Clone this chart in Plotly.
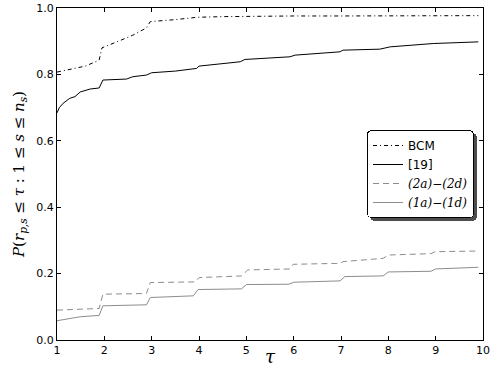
import plotly.graph_objects as go

# ---- data ----
tau_bcm = [1.0, 1.3, 1.6, 1.89, 1.95, 2.3, 2.6, 2.89, 2.97, 3.5, 3.95, 4.5, 5.0, 6.0, 7.0, 8.0, 9.0, 9.9]
val_bcm = [0.807, 0.815, 0.825, 0.843, 0.880, 0.900, 0.918, 0.940, 0.959, 0.965, 0.972, 0.974, 0.975, 0.976, 0.976, 0.976, 0.977, 0.977]

tau_19 = [1.0, 1.05, 1.13, 1.27, 1.38, 1.49, 1.7, 1.89, 1.97, 2.47, 2.6, 2.89, 3.0, 3.5, 3.95, 4.0,
          4.87, 4.97, 5.92, 6.03, 6.98, 7.04, 7.82, 8.04, 8.95, 9.9]
val_19 = [0.684, 0.700, 0.713, 0.728, 0.733, 0.747, 0.756, 0.759, 0.783, 0.786, 0.793, 0.798, 0.805, 0.810, 0.818, 0.825,
          0.838, 0.845, 0.853, 0.858, 0.868, 0.873, 0.876, 0.883, 0.893, 0.898]

tau_2 = [1.0, 1.89, 1.97, 2.89, 2.97, 3.92, 4.0, 4.9, 5.03, 5.92, 5.99, 6.98, 7.04, 7.89, 8.0, 8.9, 8.99, 9.9]
val_2 = [0.090, 0.095, 0.138, 0.140, 0.173, 0.175, 0.188, 0.193, 0.211, 0.214, 0.228, 0.231, 0.236, 0.246, 0.256, 0.260, 0.266, 0.268]

tau_1 = [1.0, 1.49, 1.89, 1.97, 2.89, 2.97, 3.88, 3.98, 4.9, 5.0, 5.9, 6.0, 6.98, 7.08, 7.89, 8.0, 8.9, 9.0, 9.9]
val_1 = [0.058, 0.070, 0.074, 0.103, 0.106, 0.128, 0.133, 0.152, 0.154, 0.167, 0.168, 0.174, 0.178, 0.191, 0.193, 0.205, 0.207, 0.214, 0.219]

x_ticks = [1, 2, 3, 4, 5, 6, 7, 8, 9, 10]
y_ticks = [0.0, 0.2, 0.4, 0.6, 0.8, 1.0]

SERIF = "font-family:'DejaVu Serif'"
names = ["BCM", "[19]",
         f"<span style=\"{SERIF}\"><i>(2a)</i>−<i>(2d)</i></span>",
         f"<span style=\"{SERIF}\"><i>(1a)</i>−<i>(1d)</i></span>"]

GRAY = "#8c8c8c"
fig = go.Figure()
fig.add_trace(go.Scatter(x=tau_bcm, y=val_bcm, mode="lines", name=names[0],
                         line=dict(color="black", width=1, dash="4px,3px,1px,3px")))
fig.add_trace(go.Scatter(x=tau_19, y=val_19, mode="lines", name=names[1],
                         line=dict(color="black", width=1)))
fig.add_trace(go.Scatter(x=tau_2, y=val_2, mode="lines", name=names[2],
                         line=dict(color=GRAY, width=1, dash="6px,4px")))
fig.add_trace(go.Scatter(x=tau_1, y=val_1, mode="lines", name=names[3],
                         line=dict(color=GRAY, width=1)))

axis_common = dict(showline=True, linecolor="black", linewidth=1, mirror="ticks",
                   ticks="inside", ticklen=4, tickcolor="black", tickwidth=1,
                   showgrid=False, zeroline=False, automargin=False,
                   ticklabeloverflow="allow",
                   tickfont=dict(family="DejaVu Sans", size=11, color="black"))

fig.update_xaxes(range=[1, 10], tickvals=x_ticks, ticktext=[str(v) for v in x_ticks],
                 title=dict(text="<i>τ</i>", font=dict(family="DejaVu Serif", size=18, color="black"), standoff=0),
                 **axis_common)
fig.update_yaxes(range=[0, 1], tickvals=y_ticks, ticktext=[f"{v:.1f}" for v in y_ticks],
                 title=dict(text="<i>P</i>(<i>r</i><sub><i>p,s</i></sub> ≤ <i>τ</i> : 1 ≤ <i>s</i> ≤ <i>n</i><sub><i>s</i></sub>)",
                            font=dict(family="DejaVu Serif", size=15, color="black"), standoff=8),
                 **axis_common)

fig.update_layout(
    width=490, height=367,
    margin=dict(l=57, r=7, t=8, b=27),
    plot_bgcolor="white", paper_bgcolor="white",
    legend=dict(x=(367 - 57) / 426, y=(340 - 130) / 332, xanchor="left", yanchor="top",
                bgcolor="white", bordercolor="black", borderwidth=1,
                font=dict(family="DejaVu Sans", size=12, color="black"),
                itemwidth=30, tracegroupgap=0),
    showlegend=True,
)

post = """
document.body.style.margin='0';
document.body.style.overflow='hidden';
var gd = document.getElementById('{plot_id}');
function styleLegend(){
  var bg = gd.querySelector('.legend .bg');
  if (bg) {
    bg.setAttribute('rx', '4'); bg.setAttribute('ry', '4');
    bg.style.filter = 'drop-shadow(3px 3px 0px #4d4d4d)';
  }
}
styleLegend();
gd.on && gd.on('plotly_afterplot', styleLegend);
"""

fig.write_html("out.html", config={"displayModeBar": False}, post_script=post)
